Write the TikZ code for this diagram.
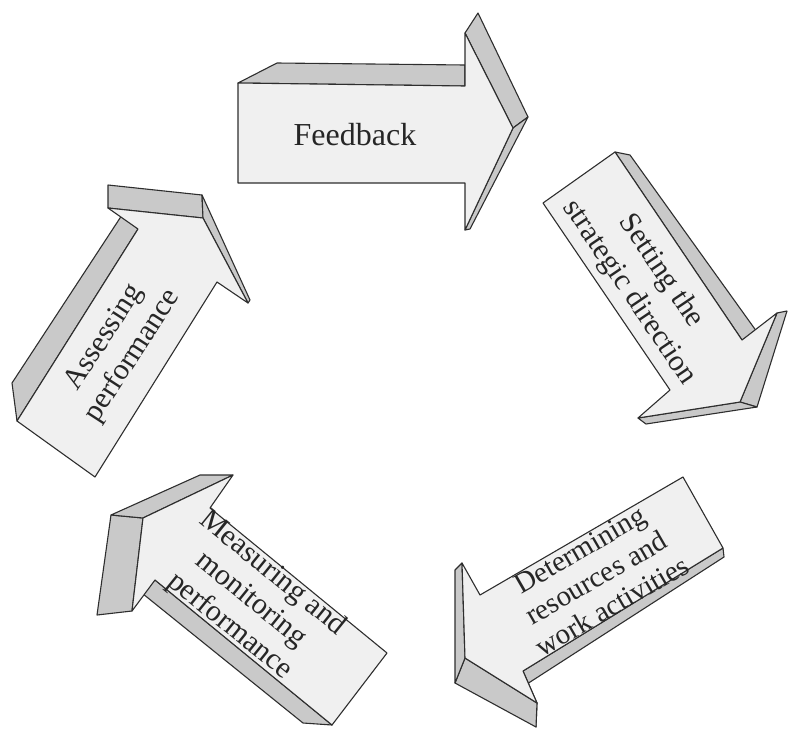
\documentclass[tikz,border=0pt]{standalone}
\usepackage{fontspec}
\setmainfont{Liberation Serif}
\definecolor{frontc}{HTML}{F0F0F0}
\definecolor{sidec}{HTML}{C9C9C9}
\definecolor{edgec}{HTML}{2E2E2E}
\begin{document}
\begin{tikzpicture}[x=1pt,y=-1pt,
  front/.style={fill=frontc,draw=edgec,line width=1.1pt,line join=round},
  side/.style={fill=sidec,draw=edgec,line width=1.1pt,line join=round},
  lbl/.style={font=\fontsize{30}{34}\selectfont,align=center,text=black!85,inner sep=0pt}]
\useasboundingbox (0,0) rectangle (790,729);

% Arrow 1: Feedback
\draw[side] (238,83) -- (277,63) -- (465,65) -- (465,86) -- cycle;
\draw[side] (465,33) -- (478,13) -- (528,117) -- (513,128) -- cycle;
\draw[side] (513,128) -- (528,117) -- (470,229) -- (465,230) -- cycle;
\draw[front] (238,83) -- (465,86) -- (465,33) -- (513,128) -- (465,230) -- (465,183) -- (238,183) -- cycle;
\node[lbl,font=\fontsize{32}{36}\selectfont] (fb) at (355,135) {Feedback};

% Arrow 2: Setting the strategic direction
\draw[side] (615,152) -- (630,155) -- (757,332) -- (742,340) -- cycle;
\draw[side] (777,313) -- (787,311) -- (757,407) -- (740,402) -- cycle;
\draw[side] (638,418) -- (740,402) -- (757,407) -- (646,424) -- cycle;
\draw[front] (543,203) -- (615,152) -- (742,340) -- (777,313) -- (740,402) -- (638,418) -- (670,390) -- cycle;
\node[lbl,font=\fontsize{30}{38}\selectfont,rotate=-56] (sd) at (645,282) {Setting the\\strategic direction};

% Arrow 3: Determining resources and work activities
\draw[side] (723,548) -- (724,557) -- (527,684) -- (536,727) -- (537,703) -- (523,671) -- cycle;
\draw[side] (465,658) -- (537,703) -- (536,727) -- (455,683) -- cycle;
\draw[side] (462,563) -- (465,658) -- (455,683) -- (455,570) -- cycle;
\draw[front] (683,477) -- (723,548) -- (523,671) -- (537,703) -- (465,658) -- (462,563) -- (480,595) -- cycle;
\node[lbl,font=\fontsize{29}{32.5}\selectfont,rotate=30] (dr) at (596,578) {Determining\\resources and\\work activities};

% Arrow 4: Measuring and monitoring performance
\draw[side] (155,580) -- (332,725) -- (303,723) -- (122,577) -- cycle;
\draw[side] (143,518) -- (132,611) -- (97,615) -- (111,515) -- cycle;
\draw[side] (143,518) -- (233,475) -- (200,475) -- (111,515) -- cycle;
\draw[front] (143,518) -- (233,475) -- (210,508) -- (387,653) -- (332,725) -- (155,580) -- (132,611) -- cycle;
\node[lbl,rotate=-39] (mm) at (251,600) {Measuring and\\monitoring\\performance};

% Arrow 5: Assessing performance
\draw[side] (138,229) -- (17,421) -- (12,383) -- (122,215) -- cycle;
\draw[side] (108,208) -- (203,218) -- (202,195) -- (108,185) -- cycle;
\draw[side] (203,218) -- (202,195) -- (250,300) -- (248,303) -- cycle;
\draw[front] (108,208) -- (203,218) -- (248,303) -- (217,282) -- (95,477) -- (17,421) -- (138,229) -- cycle;
\node[lbl,rotate=57] (ap) at (119,347) {Assessing\\performance};
\end{tikzpicture}
\end{document}
